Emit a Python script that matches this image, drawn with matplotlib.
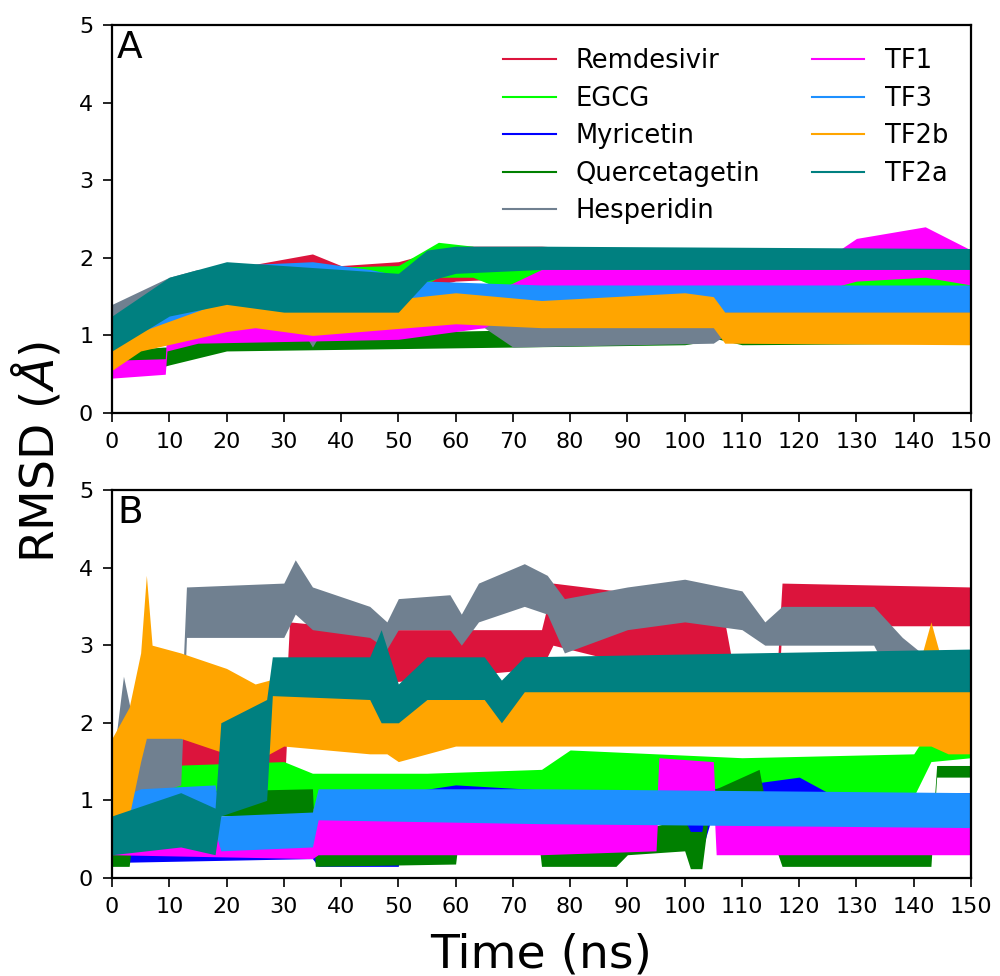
import matplotlib.pyplot as plt
from matplotlib.lines import Line2D

names = ["Remdesivir", "EGCG", "Myricetin", "Quercetagetin", "Hesperidin",
         "TF1", "TF3", "TF2b", "TF2a"]
colors = ["crimson", "lime", "blue", "green", "slategray",
          "magenta", "dodgerblue", "orange", "teal"]

# each trace as (time ns, lower RMSD, upper RMSD) of its noise band
# panel A
rem_a = [(0, 0.7, 1.1), (10, 1.1, 1.6), (20, 1.4, 1.85), (35, 1.55, 2.05), (40, 1.5, 1.9),
         (50, 1.55, 1.95), (60, 1.7, 2.15), (75, 1.75, 2.15), (100, 1.7, 2.05),
         (110, 1.5, 1.85), (150, 1.5, 1.9)]
egcg_a = [(0, 0.7, 1.1), (10, 1.1, 1.6), (20, 1.4, 1.85), (50, 1.45, 1.9), (57, 1.75, 2.2),
          (63, 1.75, 2.15), (68, 1.6, 1.9), (100, 1.5, 1.85), (150, 1.6, 1.95)]
myr_a = [(0, 0.6, 1.0), (10, 1.0, 1.35), (25, 1.15, 1.5), (60, 1.25, 1.6), (100, 1.3, 1.65),
         (110, 1.2, 1.5), (150, 1.2, 1.5)]
que_a = [(0, 0.5, 0.8), (9, 0.6, 0.85), (10, 0.62, 0.85), (20, 0.8, 1.0), (70, 0.85, 1.07),
         (100, 0.88, 1.08), (106, 0.95, 1.15), (110, 0.88, 1.1), (150, 0.9, 1.1)]
hes_a = [(0, 0.9, 1.4), (10, 1.3, 1.75), (15, 1.4, 1.85), (25, 1.2, 1.5), (33, 1.1, 1.3),
         (35, 0.85, 1.15), (37, 1.1, 1.3), (65, 1.1, 1.3), (70, 0.85, 1.2), (105, 0.9, 1.25),
         (110, 1.15, 1.45), (150, 1.2, 1.5)]
tf1_a = [(0, 0.45, 0.68), (9.3, 0.5, 0.7), (9.6, 0.8, 1.1), (15, 0.9, 1.3), (50, 0.95, 1.3),
         (65, 1.1, 1.5), (75, 1.5, 1.85), (80, 1.62, 1.95), (105, 1.6, 1.95), (125, 1.6, 2.0),
         (130, 1.7, 2.25), (142, 1.75, 2.4), (150, 1.65, 2.1)]
tf3_a = [(0, 0.7, 1.1), (10, 1.0, 1.45), (20, 1.45, 1.9), (35, 1.55, 1.95), (45, 1.45, 1.85),
         (55, 1.3, 1.7), (75, 1.3, 1.65), (150, 1.3, 1.65)]
tf2b_a = [(0, 0.55, 0.9), (5, 0.8, 1.05), (20, 1.05, 1.45), (25, 1.1, 1.55), (35, 1.0, 1.35),
          (60, 1.15, 1.55), (75, 1.1, 1.45), (100, 1.1, 1.55), (105, 1.1, 1.5),
          (107, 0.9, 1.3), (150, 0.88, 1.3)]
tf2a_a = [(0, 0.8, 1.25), (10, 1.25, 1.75), (20, 1.4, 1.95), (30, 1.3, 1.9), (50, 1.3, 1.8),
          (55, 1.7, 2.1), (60, 1.8, 2.15), (75, 1.85, 2.15), (150, 1.85, 2.12)]

# panel B
rem_b = [(0, 1.3, 1.8), (10, 1.4, 1.9), (25, 1.5, 2.0), (27, 0.9, 1.9), (30, 1.0, 1.8),
         (31, 2.6, 3.3), (45, 2.5, 3.2), (60, 2.6, 3.2), (75, 2.7, 3.2), (77, 3.0, 3.8),
         (88, 2.8, 3.7), (92, 2.4, 3.4), (107, 2.4, 3.3), (109, 1.8, 2.5), (116, 1.9, 2.5),
         (117, 3.25, 3.8), (150, 3.25, 3.75)]
egcg_b = [(0, 0.5, 1.0), (10, 0.9, 1.45), (30, 0.85, 1.5), (35, 0.9, 1.35), (55, 0.95, 1.35),
          (75, 0.95, 1.4), (80, 0.95, 1.65), (110, 1.0, 1.55), (140, 1.05, 1.6),
          (143, 1.5, 1.95), (150, 1.55, 1.95)]
myr_b = [(0, 0.2, 0.4), (35, 0.25, 0.45), (36, 0.15, 0.3), (50, 0.15, 0.3), (51, 0.8, 1.1),
         (60, 0.85, 1.2), (95, 0.8, 1.05), (99, 0.45, 0.8), (103, 0.35, 0.7), (105, 0.85, 1.15),
         (120, 0.9, 1.3), (125, 0.85, 1.1), (150, 0.85, 1.1)]
que_b = [(0, 0.15, 0.35), (3, 0.15, 0.35), (4, 0.8, 1.1), (35, 0.8, 1.15), (35.5, 0.15, 0.3),
         (60, 0.18, 0.35), (61, 0.8, 1.1), (74, 0.8, 1.1), (75, 0.15, 0.35), (88, 0.15, 0.35),
         (90, 0.3, 0.6), (100, 0.35, 0.75), (101, 0.12, 0.6), (103, 0.12, 0.6), (104, 0.7, 1.1),
         (113, 0.9, 1.4), (114, 0.8, 1.0), (117, 0.15, 0.35), (143, 0.15, 0.35),
         (144, 1.3, 1.45), (150, 1.3, 1.45)]
hes_b = [(0, 0.9, 1.4), (2, 1.2, 2.6), (4, 1.0, 1.9), (12, 1.2, 2.0), (13, 3.1, 3.75),
         (30, 3.1, 3.8), (32, 3.4, 4.1), (35, 3.2, 3.75), (45, 3.1, 3.5), (48, 2.95, 3.3),
         (50, 3.2, 3.6), (59, 3.2, 3.65), (61, 3.0, 3.4), (64, 3.3, 3.8), (72, 3.5, 4.05),
         (76, 3.4, 3.9), (79, 2.9, 3.6), (90, 3.2, 3.75), (100, 3.3, 3.85), (110, 3.2, 3.7),
         (114, 3.0, 3.3), (117, 3.0, 3.5), (133, 3.0, 3.5), (138, 2.3, 3.1),
         (143, 1.9, 2.8), (150, 2.2, 2.9)]
tf1_b = [(0, 0.3, 0.5), (35, 0.25, 0.55), (36, 0.3, 0.8), (75, 0.3, 0.75), (95, 0.35, 0.75),
         (95.5, 1.1, 1.55), (105, 1.1, 1.5), (105.5, 0.3, 0.75), (150, 0.3, 0.7)]
tf3_b = [(0, 0.4, 1.0), (5, 0.6, 1.15), (18, 0.6, 1.2), (19, 0.35, 0.8), (35, 0.4, 0.85),
         (36, 0.75, 1.15), (75, 0.7, 1.15), (150, 0.65, 1.1)]
tf2b_b = [(0, 0.6, 1.8), (3, 0.8, 2.2), (5, 1.5, 2.9), (6, 1.8, 3.9), (7, 1.8, 3.0),
          (12, 1.8, 2.9), (20, 1.6, 2.7), (25, 1.5, 2.5), (30, 1.7, 2.6), (45, 1.6, 2.5),
          (48, 1.6, 2.8), (50, 1.5, 2.2), (60, 1.7, 2.5), (75, 1.7, 2.5), (140, 1.7, 2.5),
          (143, 1.7, 3.3), (146, 1.6, 2.5), (150, 1.6, 2.4)]
tf2a_b = [(0, 0.3, 0.8), (12, 0.4, 1.1), (18, 0.3, 0.9), (19, 0.8, 2.0), (27, 1.0, 2.3),
          (28, 2.35, 2.85), (45, 2.3, 2.85), (47, 2.0, 3.2), (50, 2.0, 2.5), (55, 2.3, 2.85),
          (65, 2.3, 2.85), (68, 2.0, 2.55), (72, 2.4, 2.85), (150, 2.4, 2.95)]

panel_a = [rem_a, egcg_a, myr_a, que_a, hes_a, tf1_a, tf3_a, tf2b_a, tf2a_a]
panel_b = [rem_b, egcg_b, myr_b, que_b, hes_b, tf1_b, tf3_b, tf2b_b, tf2a_b]


def draw_panel(ax, bands, letter):
    for band, c in zip(bands, colors):
        t = [p[0] for p in band]
        lo = [p[1] for p in band]
        hi = [p[2] for p in band]
        ax.fill_between(t, lo, hi, color=c, lw=0)
    ax.set_xlim(0, 150)
    ax.set_ylim(0, 5)
    ax.set_xticks(range(0, 151, 10))
    ax.set_yticks(range(0, 6))
    ax.tick_params(direction="out", length=6.5, width=1.2, labelsize=16, pad=7)
    for s in ax.spines.values():
        s.set_linewidth(1.6)
    ax.text(0.006, 0.988, letter, transform=ax.transAxes, fontsize=27,
            ha="left", va="top")


fig = plt.figure(figsize=(10, 9.76), dpi=100)
ax_a = fig.add_axes([0.112, 0.5768, 0.859, 0.3976])
ax_b = fig.add_axes([0.112, 0.1004, 0.859, 0.3976])

draw_panel(ax_a, panel_a, "A")
draw_panel(ax_b, panel_b, "B")

handles = [Line2D([], [], color=c, lw=1.5) for c in colors]
ax_a.legend(handles, names, loc="upper right", ncol=2, frameon=False, fontsize=18.5,
            handlelength=2.05, handletextpad=0.78, columnspacing=2.0, labelspacing=0.45)

fig.text(0.037, 0.537, r"RMSD ($\mathit{\AA}$)", rotation=90, fontsize=34,
         ha="center", va="center")
fig.text(0.541, 0.009, "Time (ns)", fontsize=34, ha="center", va="baseline")

fig.savefig("out.png")
